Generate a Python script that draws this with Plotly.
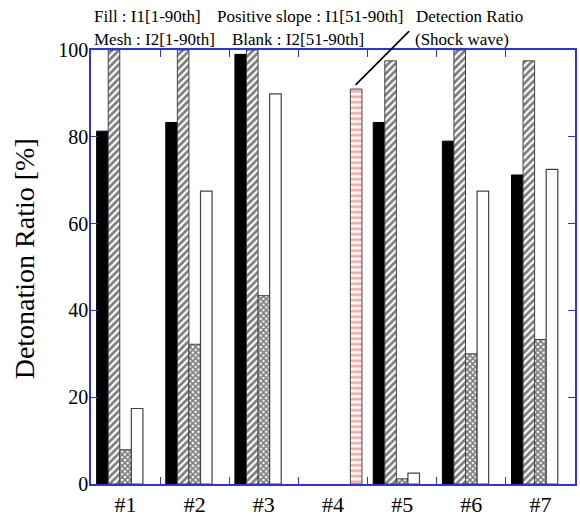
import plotly.graph_objects as go

categories = ["#1", "#2", "#3", "#4", "#5", "#6", "#7"]
fill_i1 = [81.3, 83.3, 99.0, None, 83.3, 79.0, 71.2]
slope_i1 = [100, 100, 100, None, 97.5, 100, 97.5]
mesh_i2 = [7.9, 32.2, 43.4, None, 1.2, 30.0, 33.3]
blank_i2 = [17.4, 67.5, 89.9, None, 2.5, 67.5, 72.5]
shock_wave = [None, None, None, 91.0, None, None, None]
y_ticks = [0, 20, 40, 60, 80, 100]
y_title = "Detonation Ratio [%]"

W, H = 580, 520
L, R, T, B = 91, 577, 50, 486
FONT = "Liberation Serif"
AXC = "#2f2fef"
EDGE = "#444444"

def px(x):
    return (x - L) / (R - L)

def py(y):
    return (B - y) / (B - T)

fig = go.Figure()
fig.add_bar(x=categories, y=fill_i1, name="Fill : I1[1-90th]",
            marker=dict(color="black", line=dict(color="black", width=1)))
fig.add_bar(x=categories, y=slope_i1, name="Positive slope : I1[51-90th]",
            marker=dict(color="white", line=dict(color=EDGE, width=1),
                        pattern=dict(shape="/", fgcolor="black", bgcolor="white",
                                     size=5, solidity=0.55)))
fig.add_bar(x=categories, y=mesh_i2, name="Mesh : I2[1-90th]",
            marker=dict(color="white", line=dict(color=EDGE, width=1),
                        pattern=dict(shape="x", fgcolor="black", bgcolor="white",
                                     size=4, solidity=0.7)))
fig.add_bar(x=categories, y=blank_i2, name="Blank : I2[51-90th]",
            marker=dict(color="white", line=dict(color=EDGE, width=1.2)))
fig.add_bar(x=categories, y=shock_wave, name="Detection Ratio (Shock wave)",
            marker=dict(color="white", line=dict(color=EDGE, width=1),
                        pattern=dict(shape="-", fgcolor="#ff4d4d", bgcolor="white",
                                     size=5.5, solidity=0.5)))

fig.update_layout(
    width=W, height=H,
    margin=dict(l=L, r=W - R, t=T, b=H - B),
    paper_bgcolor="white", plot_bgcolor="white",
    barmode="group", bargap=0.163, bargroupgap=0,
    showlegend=False,
    font=dict(family=FONT, color="black"),
)
fig.update_xaxes(
    type="category", tickson="boundaries",
    showline=True, linecolor=AXC, linewidth=1.5, mirror="allticks",
    ticks="inside", ticklen=7, tickcolor=AXC, tickwidth=1.2,
    tickfont=dict(family=FONT, size=22, color="black"),
    showgrid=False, zeroline=False,
)
fig.update_yaxes(
    range=[0, 100], tickvals=y_ticks,
    showline=True, linecolor=AXC, linewidth=1.5, mirror="allticks",
    ticks="inside", ticklen=7, tickcolor=AXC, tickwidth=1.2,
    tickfont=dict(family=FONT, size=20, color="black"),
    ticklabelstandoff=-3,
    showgrid=False, zeroline=False,
)

fig.add_annotation(text=y_title, xref="paper", yref="paper", x=px(24), y=py(260),
                   xanchor="center", yanchor="middle", textangle=-90, showarrow=False,
                   font=dict(family=FONT, size=28, color="black"))

labels = [
    ("Fill : I1[1-90th]", 92, 16),
    ("Positive slope : I1[51-90th]", 216, 16),
    ("Detection Ratio", 415, 16),
    ("Mesh : I2[1-90th]", 92, 39),
    ("Blank : I2[51-90th]", 231, 39),
    ("(Shock wave)", 414, 39),
]
for text, x, y in labels:
    fig.add_annotation(text=text, xref="paper", yref="paper", x=px(x), y=py(y),
                       xanchor="left", yanchor="middle", showarrow=False,
                       font=dict(family=FONT, size=17, color="black"))

fig.add_shape(type="line", xref="paper", yref="paper",
              x0=px(356.7), y0=py(85), x1=px(410.5), y1=py(31),
              line=dict(color="black", width=1.6))

fig.write_html("out.html")
